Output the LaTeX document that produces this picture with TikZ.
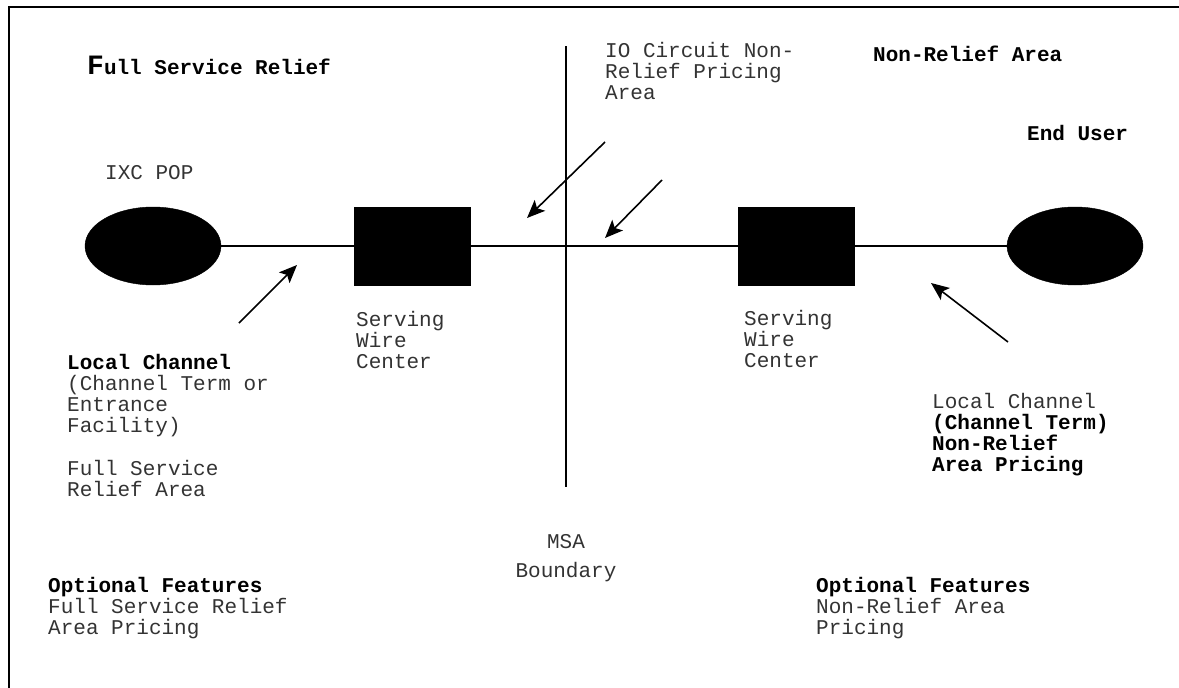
\documentclass[tikz,border=0pt]{standalone}
\usepackage{fontspec}
\setmainfont{Liberation Mono}
\usetikzlibrary{shapes.geometric,arrows.meta}
\newcommand\boldtxt[1]{{\bfseries\color{black}#1}}
\begin{document}
\begin{tikzpicture}[x=1pt,y=-1pt,
  txt/.style={anchor=base west,inner sep=0pt,align=left,font=\fontsize{21}{21}\selectfont,text=black!80},
  bld/.style={txt,font=\fontsize{21}{21}\selectfont\bfseries,text=black},
  blob/.style={ellipse,fill=black,draw=black,minimum width=136pt,minimum height=78pt,inner sep=0pt},
  box/.style={rectangle,fill=black,draw=black,minimum width=116pt,minimum height=78pt,inner sep=0pt},
  wire/.style={line width=1.6pt},
  frameline/.style={line width=2pt},
  pointer/.style={line width=1.6pt,-{Stealth[length=18pt,width=15pt,inset=4pt]}}]
\useasboundingbox (0,0) rectangle (1179,688);
% frame
\coordinate (fbl) at (9,690);
\coordinate (ftl) at (9,7);
\coordinate (ftr) at (1181,7);
\draw[frameline] (fbl) -- (ftl) -- (ftr);

% shapes
\node[blob] (pop) at (153,246) {};
\node[box] (swc1) at (412,246) {};
\node[box] (swc2) at (796,246) {};
\node[blob] (eu) at (1075,246) {};
\draw[wire] (pop) -- (swc1);
\draw[wire] (swc1) -- (swc2);
\draw[wire] (swc2) -- (eu);

% MSA boundary
\coordinate (msatop) at (566,46);
\coordinate (msabot) at (566,487);
\draw[wire] (msatop) -- (msabot);

% labels (multi-line nodes are placed by the baseline of their last line)
\node[bld] (title) at (87,74) {{\fontsize{28}{28}\selectfont F}ull Service Relief};
\node[txt] (io) at (605,99) {IO Circuit Non-\\Relief Pricing\\Area};
\node[bld] (nra) at (873,61) {Non-Relief Area};
\node[bld] (eul) at (1027,140) {End User};
\node[txt] (ixc) at (105,179) {IXC POP};
\node[txt] (swc1l) at (356,368) {Serving\\Wire\\Center};
\node[txt] (swc2l) at (744,367) {Serving\\Wire\\Center};
\node[txt] (lc1) at (67,496) {\boldtxt{Local Channel}\\(Channel Term or\\Entrance\\Facility)\\[22pt]Full Service\\Relief Area};
\node[txt] (lc2) at (932,471) {Local Channel\\\boldtxt{(Channel Term)}\\\boldtxt{Non-Relief}\\\boldtxt{Area Pricing}};
\node[txt,anchor=base,align=center] (msa) at (566,577) {MSA\\[8pt]Boundary};
\node[txt] (of1) at (48,634) {\boldtxt{Optional Features}\\Full Service Relief\\Area Pricing};
\node[txt] (of2) at (816,634) {\boldtxt{Optional Features}\\Non-Relief Area\\Pricing};

% pointers
\coordinate (a1s) at (239,323);
\coordinate (a1e) at (297,265);
\coordinate (a2s) at (605,142);
\coordinate (a2e) at (527,218);
\coordinate (a3s) at (662,180);
\coordinate (a3e) at (605,238);
\coordinate (a4s) at (1008,342);
\coordinate (a4e) at (931,283);
\draw[pointer] (a1s) -- (a1e);
\draw[pointer] (a2s) -- (a2e);
\draw[pointer] (a3s) -- (a3e);
\draw[pointer] (a4s) -- (a4e);
\end{tikzpicture}
\end{document}
